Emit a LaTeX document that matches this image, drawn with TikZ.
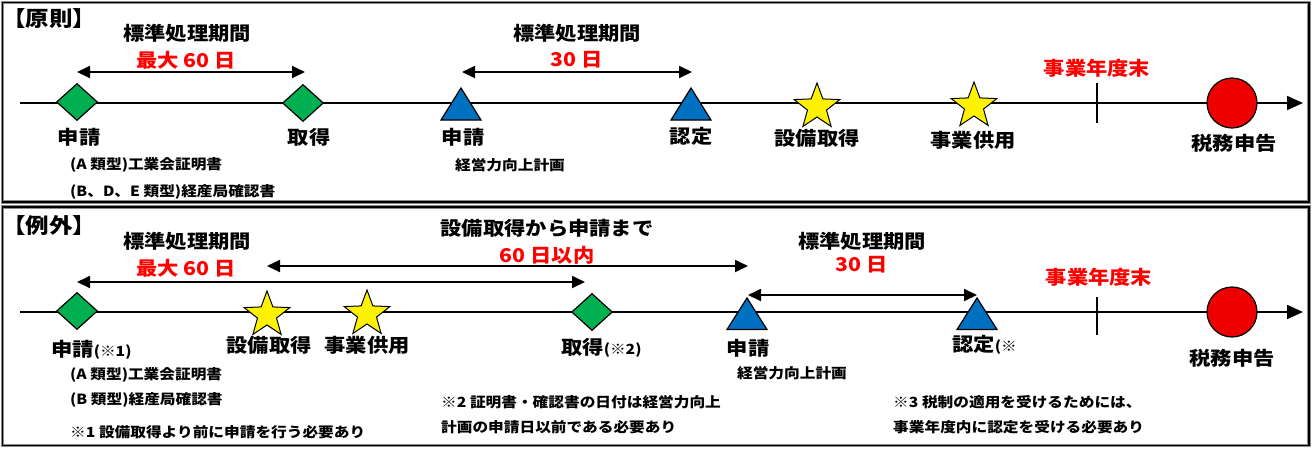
\documentclass[tikz,border=0pt]{standalone}
\usepackage{fontspec}
\setmainfont{Noto Sans CJK JP}[FakeStretch=1.12]
\usetikzlibrary{shapes.geometric,arrows.meta,calc}
\definecolor{dgreen}{RGB}{0,176,80}
\definecolor{tblue}{RGB}{0,112,192}
\definecolor{cred}{RGB}{238,0,0}
\definecolor{tred}{RGB}{255,0,0}
\newcommand{\smnote}[1]{{\fontsize{14}{16}\selectfont #1}}
\begin{document}
\begin{tikzpicture}[x=1pt,y=-1pt,
  lbl/.style={font=\bfseries\fontsize{19}{21}\selectfont, inner sep=0pt},
  ttl/.style={font=\bfseries\fontsize{21}{23}\selectfont, inner sep=0pt, anchor=west},
  rlbl/.style={lbl, text=tred},
  note/.style={font=\bfseries\fontsize{14}{16}\selectfont, inner sep=0pt, anchor=west},
  dia/.style={diamond, draw=black, line width=1.2pt, fill=dgreen, minimum width=41pt, minimum height=37pt, inner sep=0pt},
  starnode/.style={star, star points=5, star point ratio=2.4, draw=black, line width=1pt, fill=yellow, minimum size=48pt, inner sep=0pt},
  tri/.style={draw=black, line width=1.2pt, fill=tblue},
  circ/.style={circle, draw=black, line width=1.2pt, fill=cred, minimum size=50pt, inner sep=0pt},
  dim/.style={line width=1.8pt, {Triangle[length=13pt,width=12pt]}-{Triangle[length=13pt,width=12pt]}},
  axis/.style={line width=1.8pt, -{Triangle[length=16pt,width=14pt]}},
  tick/.style={line width=1.4pt},
  frameshadow/.style={line width=3.6pt, black!45},
  frameline/.style={line width=1.8pt, black}
]
\useasboundingbox (0,0) rectangle (1313,448);
% frames
\draw[frameshadow] (2.5,2.5) rectangle (1309,202);
\draw[frameline] (2.5,2.5) rectangle (1309,202);
\draw[frameshadow] (2.5,207) rectangle (1309,445.5);
\draw[frameline] (2.5,207) rectangle (1309,445.5);

% ================= top panel =================
\coordinate (a0) at (20,103);
\coordinate (a1) at (1303,103);
\draw[axis] (a0) -- (a1);

\node[ttl] (t1) at (2,19) {【原則】};

\node[dia] (d1) at (77,102) {};
\node[dia] (d2) at (303,103) {};
\coordinate (tr1) at (461,104);
\coordinate (tr2) at (691,104);
\draw[tri] ($(tr1)+(-20,16)$) -- ($(tr1)+(20,16)$) -- ($(tr1)+(0,-16)$) -- cycle;
\draw[tri] ($(tr2)+(-20,16)$) -- ($(tr2)+(20,16)$) -- ($(tr2)+(0,-16)$) -- cycle;
\node[starnode] (s1) at (817,107) {};
\node[starnode] (s2) at (974,106) {};
\coordinate (k1) at (1097,103);
\draw[tick] ($(k1)+(0,-20)$) -- ($(k1)+(0,20)$);
\node[circ] (c1) at (1232,103) {};

\draw[dim] ($(d1)+(0,-30)$) -- ($(d2)+(2,-31)$);
\draw[dim] ($(tr1)+(1,-32)$) -- ($(tr2)+(1,-32)$);

\node[lbl] (h1) at (187,33) {標準処理期間};
\node[rlbl] (h1r) at (186,60) {最大 60 日};
\node[lbl] (h2) at (577,33) {標準処理期間};
\node[rlbl] (h2r) at (577,60) {30 日};
\node[rlbl] (fy1) at (1097,68) {事業年度末};

\node[lbl] (l1) at (79,137) {申請};
\node[lbl] (l2) at (309,137) {取得};
\node[lbl] (l3) at (463,137) {申請};
\node[lbl] (l4) at (691,136) {認定};
\node[lbl] (l5) at (817,138) {設備取得};
\node[lbl] (l6) at (973,140) {事業供用};
\node[lbl] (l7) at (1234,143) {税務申告};

\node[note] (n1) at (70,165) {(A 類型)工業会証明書};
\node[note] (n2) at (70,192) {(B、D、E 類型)経産局確認書};
\node[note, anchor=center] (n3) at (510,165) {経営力向上計画};

% ================= bottom panel =================
\coordinate (b0) at (20,312);
\coordinate (b1) at (1303,312);
\draw[axis] (b0) -- (b1);

\node[ttl] (t2) at (2,226) {【例外】};

\node[dia] (e1) at (77,311) {};
\node[starnode] (s3) at (267,315) {};
\node[starnode] (s4) at (367,314) {};
\node[dia] (e2) at (592,312) {};
\coordinate (tr3) at (747,314);
\coordinate (tr4) at (977,314);
\draw[tri] ($(tr3)+(-20,15.5)$) -- ($(tr3)+(20,15.5)$) -- ($(tr3)+(0,-16)$) -- cycle;
\draw[tri] ($(tr4)+(-20,15.5)$) -- ($(tr4)+(20,15.5)$) -- ($(tr4)+(0,-16)$) -- cycle;
\coordinate (k2) at (1097,316);
\draw[tick] ($(k2)+(0,-19)$) -- ($(k2)+(0,19)$);
\node[circ] (c2) at (1232,312) {};

\draw[dim] ($(s3)+(0,-49)$) -- ($(tr3)+(1,-48)$);
\draw[dim] ($(e1)+(0,-29)$) -- ($(e2)+(-7,-30)$);
\draw[dim] ($(tr3)+(1,-19)$) -- ($(tr4)+(0,-19)$);

\node[lbl] (g1) at (187,241) {標準処理期間};
\node[rlbl] (g1r) at (186,268) {最大 60 日};
\node[lbl] (g2) at (547,228) {設備取得から申請まで};
\node[rlbl] (g2r) at (547,255) {60 日以内};
\node[lbl] (g3) at (862,241) {標準処理期間};
\node[rlbl] (g3r) at (862,265) {30 日};
\node[rlbl] (fy2) at (1099,277) {事業年度末};

\node[lbl, anchor=west] (m1) at (51,350) {申請\smnote{(※1)}};
\node[lbl] (m2) at (269,345) {設備取得};
\node[lbl] (m3) at (367,345) {事業供用};
\node[lbl, anchor=west] (m4) at (561,348) {取得\smnote{(※2)}};
\node[lbl] (m5) at (748,348) {申請};
\node[lbl, anchor=west] (m6) at (952,345) {認定\smnote{(※}};
\node[lbl] (m7) at (1232,358) {税務申告};

\node[note, anchor=center] (p0) at (792,373) {経営力向上計画};
\node[note] (p1) at (70,375) {(A 類型)工業会証明書};
\node[note] (p2) at (70,400) {(B 類型)経産局確認書};
\node[note] (p3) at (70,432) {※1 設備取得より前に申請を行う必要あり};
\node[note] (p4) at (441,402) {※2 証明書・確認書の日付は経営力向上};
\node[note] (p5) at (441,427) {計画の申請日以前である必要あり};
\node[note] (p6) at (893,402) {※3 税制の適用を受けるためには、};
\node[note] (p7) at (893,427) {事業年度内に認定を受ける必要あり};
\end{tikzpicture}
\end{document}
